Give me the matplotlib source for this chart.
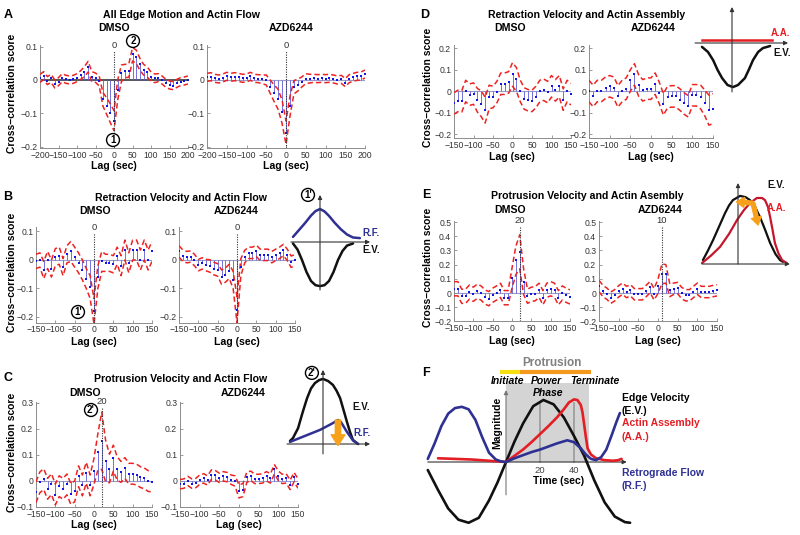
import numpy as np
import matplotlib.pyplot as plt
from matplotlib.ticker import FuncFormatter

plt.rcParams['font.family'] = ['Liberation Sans', 'DejaVu Sans']

W, H = 800, 535

# ---- cross-correlation scores ----
lag_a = np.arange(-200, 201, 10)
lag_b = np.arange(-150, 151, 10)

a_dmso = [0.005, 0.013, -0.002, 0.005, -0.012, -0.005, 0.007, 0.002, 0.0, 0.002,
          0.007, 0.015, 0.025, 0.04, 0.01, 0.007, -0.003, -0.058, -0.078, -0.1,
          -0.122, -0.03, 0.02, 0.027, 0.028, 0.077, 0.07, 0.047, 0.031, 0.024,
          0.01, 0.005, 0.007, 0.0, -0.01, -0.015, -0.017, -0.01, -0.005, -0.003, 0.0]
a_dmso_ci = [0.012, 0.012, 0.012, 0.012, 0.012, 0.012, 0.012, 0.012, 0.012, 0.012,
             0.012, 0.013, 0.015, 0.016, 0.015, 0.014, 0.015, 0.02, 0.025, 0.028,
             0.03, 0.03, 0.025, 0.02, 0.02, 0.02, 0.02, 0.018, 0.016, 0.015,
             0.014, 0.013, 0.012, 0.012, 0.012, 0.012, 0.012, 0.012, 0.012, 0.012, 0.012]
a_azd = [0.008, 0.01, 0.005, 0.003, 0.006, 0.011, 0.008, 0.01, 0.008, 0.005,
         0.006, 0.011, 0.005, 0.004, 0.002, 0.0, -0.02, -0.04, -0.058, -0.095,
         -0.158, -0.079, -0.022, -0.015, -0.006, 0.004, 0.004, 0.005, 0.004, 0.005,
         0.004, 0.005, 0.003, 0.0, 0.002, -0.008, 0.004, 0.008, 0.011, 0.012, 0.018]
a_azd_ci = [0.012, 0.012, 0.012, 0.012, 0.012, 0.012, 0.012, 0.012, 0.012, 0.012,
            0.012, 0.012, 0.012, 0.012, 0.013, 0.015, 0.02, 0.025, 0.03, 0.035,
            0.035, 0.03, 0.02, 0.018, 0.015, 0.015, 0.013, 0.012, 0.012, 0.012,
            0.012, 0.012, 0.012, 0.012, 0.012, 0.012, 0.012, 0.012, 0.012, 0.012, 0.012]

b_dmso = [-0.005, 0.0, -0.035, 0.0, -0.03, 0.01, 0.015, -0.025, 0.02, 0.03,
          0.01, -0.01, -0.035, -0.065, -0.095, -0.18, -0.06, -0.005, -0.01, -0.01,
          -0.015, 0.015, -0.02, 0.035, -0.01, 0.035, 0.035, 0.0, 0.035, 0.0, 0.03]
b_dmso_ci = [0.025, 0.025, 0.03, 0.03, 0.03, 0.03, 0.03, 0.03, 0.03, 0.035,
             0.035, 0.035, 0.035, 0.035, 0.04, 0.045, 0.04, 0.035, 0.03, 0.03,
             0.03, 0.03, 0.035, 0.035, 0.035, 0.035, 0.035, 0.035, 0.035, 0.035, 0.035]
b_azd = [0.03, 0.015, 0.01, 0.012, 0.0, -0.018, -0.012, -0.018, -0.021, -0.03,
         -0.035, -0.06, -0.053, -0.04, -0.07, -0.175, -0.025, 0.012, 0.025, 0.025,
         0.032, 0.018, 0.018, 0.018, 0.01, 0.018, 0.025, 0.035, 0.018, -0.006, -0.001]
b_azd_ci = [0.02, 0.02, 0.02, 0.02, 0.02, 0.02, 0.02, 0.02, 0.022, 0.022,
            0.022, 0.025, 0.025, 0.025, 0.03, 0.045, 0.03, 0.022, 0.02, 0.02,
            0.02, 0.02, 0.02, 0.02, 0.02, 0.02, 0.02, 0.02, 0.02, 0.02, 0.02]

c_dmso = [-0.043, -0.005, 0.007, -0.03, -0.012, -0.052, -0.02, -0.03, -0.013, -0.05,
          -0.04, 0.018, -0.017, 0.032, -0.017, 0.037, 0.112, 0.155, 0.077, 0.048,
          0.088, 0.048, 0.035, 0.05, 0.028, 0.028, 0.025, 0.015, 0.01, 0.0, -0.002]
c_dmso_ci = [0.04, 0.04, 0.04, 0.04, 0.04, 0.04, 0.04, 0.04, 0.04, 0.04,
             0.04, 0.04, 0.04, 0.04, 0.04, 0.05, 0.07, 0.11, 0.08, 0.055,
             0.05, 0.045, 0.04, 0.04, 0.04, 0.04, 0.04, 0.04, 0.04, 0.04, 0.04]
c_azd = [-0.012, -0.01, 0.0, -0.01, -0.008, 0.005, 0.01, 0.002, 0.025, 0.022,
         0.012, 0.018, 0.015, 0.005, 0.0, -0.04, -0.035, 0.015, 0.02, 0.008,
         0.008, 0.01, 0.018, 0.01, 0.045, 0.02, 0.008, 0.01, -0.015, 0.015, -0.01]
c_azd_ci = [0.018, 0.018, 0.018, 0.018, 0.018, 0.018, 0.018, 0.018, 0.018, 0.018,
            0.018, 0.018, 0.018, 0.018, 0.02, 0.025, 0.025, 0.02, 0.018, 0.018,
            0.018, 0.018, 0.018, 0.018, 0.018, 0.018, 0.018, 0.018, 0.018, 0.018, 0.018]

d_dmso = [-0.058, -0.046, -0.048, 0.0, -0.017, -0.012, -0.043, -0.06, -0.089, -0.028,
          -0.028, -0.005, 0.034, 0.034, 0.04, 0.077, 0.054, 0.0, -0.035, -0.043,
          -0.046, -0.028, 0.0, 0.006, -0.005, 0.022, 0.003, 0.022, -0.04, 0.0, -0.015]
d_dmso_ci = [0.05, 0.05, 0.05, 0.05, 0.05, 0.05, 0.055, 0.06, 0.06, 0.055,
             0.05, 0.05, 0.05, 0.05, 0.05, 0.055, 0.055, 0.05, 0.05, 0.05,
             0.05, 0.05, 0.05, 0.05, 0.05, 0.05, 0.05, 0.05, 0.05, 0.05, 0.05]
d_azd = [0.0, -0.023, 0.0, 0.0, 0.015, 0.022, 0.015, -0.025, 0.0, 0.011,
         0.049, 0.077, 0.026, 0.003, 0.011, 0.011, 0.034, -0.009, -0.062, -0.028,
         -0.025, -0.025, -0.04, -0.058, -0.071, -0.02, -0.02, -0.028, -0.055, -0.089, -0.082]
d_azd_ci = [0.05, 0.05, 0.05, 0.05, 0.05, 0.05, 0.05, 0.05, 0.05, 0.05,
            0.05, 0.05, 0.05, 0.05, 0.05, 0.05, 0.05, 0.05, 0.05, 0.05,
            0.05, 0.05, 0.05, 0.05, 0.05, 0.05, 0.05, 0.055, 0.06, 0.07, 0.07]

e_dmso = [0.03, 0.03, -0.023, -0.023, 0.007, -0.009, 0.012, 0.0, -0.028, -0.04,
          -0.016, 0.0, 0.019, -0.033, -0.033, 0.105, 0.23, 0.29, 0.08, -0.023,
          -0.009, -0.005, 0.019, -0.033, 0.019, 0.03, 0.019, -0.033, 0.0, -0.016, -0.028]
e_dmso_ci = [0.05, 0.05, 0.05, 0.05, 0.05, 0.05, 0.05, 0.05, 0.05, 0.05,
             0.05, 0.05, 0.05, 0.05, 0.05, 0.07, 0.1, 0.12, 0.09, 0.05,
             0.05, 0.05, 0.05, 0.05, 0.05, 0.05, 0.05, 0.05, 0.05, 0.05, 0.05]
e_azd = [0.049, 0.014, -0.005, -0.033, -0.016, 0.012, 0.03, 0.007, 0.019, -0.009,
         -0.009, -0.009, 0.014, 0.042, -0.009, 0.047, 0.135, 0.135, 0.019, 0.03,
         0.035, 0.0, -0.016, -0.016, 0.007, 0.03, 0.007, 0.007, 0.007, 0.014, 0.019]
e_azd_ci = [0.04, 0.04, 0.04, 0.04, 0.04, 0.04, 0.04, 0.04, 0.04, 0.04,
            0.04, 0.04, 0.04, 0.04, 0.04, 0.05, 0.07, 0.065, 0.045, 0.04,
            0.04, 0.04, 0.04, 0.04, 0.04, 0.04, 0.04, 0.04, 0.04, 0.04, 0.04]

# ---- schematic curves (arbitrary units) ----
b_rf_x = [-0.9, -0.7, -0.5, -0.3, -0.15, 0, 0.15, 0.3, 0.5, 0.7, 0.9, 1.1, 1.33]
b_rf_y = [0.17, 0.4, 0.63, 0.88, 1.03, 1.1, 1.02, 0.87, 0.63, 0.42, 0.25, 0.15, 0.13]
b_ev_x = [-0.9, -0.75, -0.6, -0.45, -0.3, -0.15, 0, 0.15, 0.3, 0.45, 0.6, 0.75, 0.9, 1.1]
b_ev_y = [-0.05, -0.25, -0.6, -1.0, -1.3, -1.44, -1.47, -1.44, -1.3, -1.0, -0.6, -0.3, -0.12, -0.05]

c_ev_x = [-1.1, -1.0, -0.83, -0.68, -0.53, -0.4, -0.27, -0.13, 0, 0.17, 0.33, 0.45,
          0.57, 0.68, 0.8, 0.9, 1.0, 1.17]
c_ev_y = [0.1, 0.2, 0.53, 1.05, 1.53, 1.85, 2.03, 2.13, 2.17, 2.1, 1.97, 1.78,
          1.53, 1.15, 0.73, 0.4, 0.13, 0.0]
c_rf_x = [-1.1, -0.6, -0.1, 0.3, 0.5, 0.6, 0.8, 1.0, 1.17]
c_rf_y = [0.07, 0.27, 0.47, 0.68, 0.8, 0.73, 0.4, 0.12, 0.0]

d_ev_x = [-1.0, -0.8, -0.63, -0.48, -0.33, -0.15, 0.03, 0.2, 0.43, 0.57, 0.7, 0.87, 1.03, 1.27]
d_ev_y = [-0.13, -0.3, -0.57, -0.9, -1.17, -1.4, -1.47, -1.4, -1.17, -0.87, -0.57, -0.3, -0.17, -0.1]
d_aa_x = [-1.0, 1.33]
d_aa_y = [0.1, 0.1]

e_ev_x = [-1.17, -1.0, -0.83, -0.63, -0.43, -0.3, -0.17, 0.07, 0.25, 0.4, 0.57, 0.73,
          0.9, 1.07, 1.25, 1.4, 1.5]
e_ev_y = [0.13, 0.45, 0.8, 1.25, 1.7, 1.95, 2.13, 2.27, 2.23, 2.13, 1.9, 1.57,
          1.15, 0.7, 0.33, 0.13, 0.07]
e_aa_x = [-1.2, -0.9, -0.6, -0.3, -0.03, 0.2, 0.4, 0.63, 0.8, 0.9, 1.0, 1.07,
          1.15, 1.23, 1.35, 1.47, 1.63]
e_aa_y = [0.03, 0.28, 0.57, 1.0, 1.47, 1.8, 2.03, 2.2, 2.2, 2.13, 1.9, 1.57,
          1.15, 0.7, 0.35, 0.13, 0.03]

# panel F: time (sec) vs magnitude
f_ev_t = [-46, -40, -34, -28, -22, -16, -10, -5, 0, 5, 10, 16, 22, 28, 34, 40, 46,
          52, 58, 64, 70, 73]
f_ev_m = [-0.13, -0.45, -0.75, -0.93, -0.98, -0.9, -0.62, -0.33, 0.0, 0.33, 0.62, 0.9,
          1.0, 0.93, 0.72, 0.42, 0.1, -0.3, -0.65, -0.88, -0.97, -0.98]
f_rf_t = [-46, -42, -38, -34, -30, -26, -22, -18, -14, -10, -6, -3, 0, 5, 10, 15, 20,
          25, 30, 36, 40, 44, 47, 50, 53, 56, 59, 62, 65, 67]
f_rf_m = [0.05, 0.3, 0.58, 0.78, 0.87, 0.89, 0.85, 0.68, 0.4, 0.15, 0.04, 0.01, 0.0,
          0.06, 0.11, 0.16, 0.2, 0.25, 0.3, 0.35, 0.32, 0.22, 0.12, 0.05, 0.03, 0.08,
          0.2, 0.42, 0.65, 0.79]
f_aa_t = [-40, -30, -20, -10, 0, 5, 10, 15, 20, 25, 30, 34, 37, 40, 42, 44, 45, 46,
          47, 48, 50, 53, 58, 63, 66, 68]
f_aa_m = [0.06, 0.05, 0.04, 0.02, 0.0, 0.1, 0.2, 0.32, 0.45, 0.58, 0.72, 0.85, 0.96,
          1.01, 1.0, 0.92, 0.8, 0.6, 0.4, 0.22, 0.12, 0.06, 0.03, 0.02, 0.03, 0.05]

BLUE = '#2e3192'
RED = '#e31e24'
ORANGE = '#f7a11a'

fig = plt.figure(figsize=(8, 5.35), dpi=100)


def box(x0, y0, x1, y1):
    return [x0 / W, 1 - y1 / H, (x1 - x0) / W, (y1 - y0) / H]


def ftext(x, y, s, **kw):
    kw.setdefault('ha', 'center')
    kw.setdefault('va', 'center')
    return fig.text(x / W, 1 - y / H, s, **kw)


def minus(v, pos):
    return ('%g' % v).replace('-', '\u2212')


def xcorr(px, py, lags, vals, ci, ylim, yticks, mark=None, base='#9c9cc8', basew=0.8):
    ax = fig.add_axes(box(px[0], py[0], px[1], py[1]))
    vals = np.array(vals)
    ci = np.array(ci)
    ax.axhline(0, color=base, lw=basew, zorder=1)
    ax.vlines(lags, 0, vals, color='#5b5bd6', lw=0.6, zorder=2)
    ax.plot(lags, vals + ci, color='#ee2222', lw=1.1, dashes=(3.5, 2), zorder=3)
    ax.plot(lags, vals - ci, color='#ee2222', lw=1.1, dashes=(3.5, 2), zorder=3)
    ax.plot(lags, vals, 's', color='#1414e6', ms=2.1, mew=0, zorder=4)
    ax.set_xlim(lags[0], lags[-1])
    ax.set_ylim(*ylim)
    ax.set_xticks(np.arange(lags[0], lags[-1] + 1, 50))
    ax.set_yticks(yticks)
    ax.xaxis.set_major_formatter(FuncFormatter(minus))
    ax.yaxis.set_major_formatter(FuncFormatter(minus))
    for s in ['top', 'right']:
        ax.spines[s].set_visible(False)
    for s in ['left', 'bottom']:
        ax.spines[s].set_color('#8c8c8c')
        ax.spines[s].set_linewidth(0.7)
    ax.tick_params(direction='in', length=2, width=0.6, colors='#8c8c8c',
                   labelcolor='#333333', labelsize=6.2, pad=2)
    ax.patch.set_alpha(0)
    if mark is not None:
        ax.axvline(mark, ymax=0.94, color='#333333', lw=0.8, ls=(0, (1, 1.2)), zorder=5)
        ax.text(mark, 1.0, str(mark), transform=ax.get_xaxis_transform(),
                ha='center', va='center', fontsize=6.8, color='#333333')
    return ax


def schem(cx, cy, x0, y0, x1, y1, sx=30.0, sy=30.0):
    ax = fig.add_axes(box(x0, y0, x1, y1))
    ax.set_xlim((x0 - cx) / sx, (x1 - cx) / sx)
    ax.set_ylim((cy - y1) / sy, (cy - y0) / sy)
    ax.axis('off')
    return ax


def arrow(ax, p0, p1, color='#333333', lw=0.8):
    ax.annotate('', xy=p1, xytext=p0,
                arrowprops=dict(arrowstyle='-|>', color=color, lw=lw,
                                mutation_scale=6, shrinkA=0, shrinkB=0))


def fat_arrow(ax, p0, p1, scale=10):
    ax.annotate('', xy=p1, xytext=p0,
                arrowprops=dict(arrowstyle='simple,head_width=0.9,head_length=0.7,tail_width=0.35',
                                color=ORANGE, mutation_scale=scale, shrinkA=0, shrinkB=0))


circ = dict(boxstyle='circle,pad=0.15', fc='white', ec='black', lw=1.0)
bold = dict(fontweight='bold')
TS = 7.6   # title size
LS = 7.6   # lag label size

# ---------------- Panel A ----------------
yA = (-0.205, 0.105)
xcorr((40, 188), (45, 148.3), lag_a, a_dmso, a_dmso_ci, yA, [-0.2, -0.1, 0, 0.1],
      mark=0, base='#555555', basew=1.4)
xcorr((207, 365), (45, 148.3), lag_a, a_azd, a_azd_ci, yA, [-0.2, -0.1, 0, 0.1], mark=0)
ftext(8, 15, 'A', fontsize=9, **bold)
ftext(181, 15, 'All Edge Motion and Actin Flow', fontsize=TS, **bold)
ftext(114, 28, 'DMSO', fontsize=TS, **bold)
ftext(291, 28, 'AZD6244', fontsize=TS, **bold)
ftext(133, 41, '2', fontsize=7, bbox=circ, **bold)
ftext(113, 140, '1', fontsize=7, bbox=circ, **bold)
ftext(12, 93, 'Cross\u2212correlation score', fontsize=7.4, rotation=90, **bold)
ftext(114, 166, 'Lag (sec)', fontsize=LS, **bold)
ftext(286, 166, 'Lag (sec)', fontsize=LS, **bold)

# ---------------- Panel B ----------------
yB = (-0.22, 0.115)
xcorr((36, 152), (227.2, 322.7), lag_b, b_dmso, b_dmso_ci, yB, [-0.2, -0.1, 0, 0.1], mark=0)
xcorr((179, 295), (227.2, 322.7), lag_b, b_azd, b_azd_ci, yB, [-0.2, -0.1, 0, 0.1], mark=0)
ftext(8, 197, 'B', fontsize=9, **bold)
ftext(181, 198, 'Retraction Velocity and Actin Flow', fontsize=TS, **bold)
ftext(95, 211, 'DMSO', fontsize=TS, **bold)
ftext(236, 211, 'AZD6244', fontsize=TS, **bold)
ftext(78, 312, "1'", fontsize=7, bbox=circ, **bold)
ftext(12, 272, 'Cross\u2212correlation score', fontsize=7.4, rotation=90, **bold)
ftext(94, 342, 'Lag (sec)', fontsize=LS, **bold)
ftext(237, 342, 'Lag (sec)', fontsize=LS, **bold)

ax = schem(320, 242, 285, 188, 380, 295)
arrow(ax, (-0.97, 0), (1.67, 0))
arrow(ax, (0, -1.6), (0, 1.57))
ax.plot(b_rf_x, b_rf_y, color=BLUE, lw=1.8, solid_capstyle='round')
ax.plot(b_ev_x, b_ev_y, color='#111111', lw=1.8, solid_capstyle='round')
ax.text(1.4, 0.3, 'R.F.', color=BLUE, fontsize=7, ha='left', va='center', **bold)
ax.text(1.4, -0.27, 'E.V.', color='#111111', fontsize=7, ha='left', va='center', **bold)
ax.text(-0.4, 1.57, "1'", fontsize=7, ha='center', va='center', bbox=circ, **bold)

# ---------------- Panel C ----------------
yC = (-0.1, 0.305)
xcorr((36, 152), (401.7, 507), lag_b, c_dmso, c_dmso_ci, yC, [-0.1, 0, 0.1, 0.2, 0.3], mark=20)
xcorr((180, 298), (401.7, 507), lag_b, c_azd, c_azd_ci, yC, [-0.1, 0, 0.1, 0.2, 0.3])
ftext(8, 378, 'C', fontsize=9, **bold)
ftext(181, 379, 'Protrusion Velocity and Actin Flow', fontsize=TS, **bold)
ftext(85, 393, 'DMSO', fontsize=TS, **bold)
ftext(243, 393, 'AZD6244', fontsize=TS, **bold)
ftext(91, 410, "2'", fontsize=7, bbox=circ, **bold)
ftext(12, 452, 'Cross\u2212correlation score', fontsize=7.4, rotation=90, **bold)
ftext(94, 525, 'Lag (sec)', fontsize=LS, **bold)
ftext(239, 525, 'Lag (sec)', fontsize=LS, **bold)

ax = schem(323, 444, 280, 362, 380, 452)
arrow(ax, (-1.2, 0), (1.57, 0))
arrow(ax, (0, -0.33), (0, 2.47))
ax.plot(c_ev_x, c_ev_y, color='#111111', lw=1.8, solid_capstyle='round')
ax.plot(c_rf_x, c_rf_y, color=BLUE, lw=1.8, solid_capstyle='round')
fat_arrow(ax, (0.5, 0.8), (0.5, -0.05), scale=11)
ax.text(0.97, 1.23, 'E.V.', color='#111111', fontsize=7, ha='left', va='center', **bold)
ax.text(1.0, 0.37, 'R.F.', color=BLUE, fontsize=7, ha='left', va='center', **bold)
ax.text(-0.37, 2.37, "2'", fontsize=7, ha='center', va='center', bbox=circ, **bold)

# ---------------- Panel D ----------------
yD = (-0.22, 0.215)
xcorr((454, 571), (44.8, 138.3), lag_b, d_dmso, d_dmso_ci, yD, [-0.2, -0.1, 0, 0.1, 0.2])
xcorr((589, 713), (44.8, 138.3), lag_b, d_azd, d_azd_ci, yD, [-0.2, -0.1, 0, 0.1, 0.2])
ftext(425, 15, 'D', fontsize=9, **bold)
ftext(587, 15, 'Retraction Velocity and Actin Assembly', fontsize=TS, **bold)
ftext(510, 28, 'DMSO', fontsize=TS, **bold)
ftext(653, 28, 'AZD6244', fontsize=TS, **bold)
ftext(428, 87, 'Cross\u2212correlation score', fontsize=7.4, rotation=90, **bold)
ftext(512, 157, 'Lag (sec)', fontsize=LS, **bold)
ftext(651, 157, 'Lag (sec)', fontsize=LS, **bold)

ax = schem(732, 43, 690, 3, 798, 96)
arrow(ax, (-1.23, 0), (1.87, 0))
arrow(ax, (0, -1.63), (0, 1.2))
ax.plot(d_ev_x, d_ev_y, color='#111111', lw=1.8, solid_capstyle='round')
ax.plot(d_aa_x, d_aa_y, color=RED, lw=1.8)
ax.text(1.3, 0.33, 'A.A.', color=RED, fontsize=7, ha='left', va='center', **bold)
ax.text(1.37, -0.33, 'E.V.', color='#111111', fontsize=7, ha='left', va='center', **bold)

# ---------------- Panel E ----------------
yE = (-0.2, 0.51)
xcorr((454, 570), (220.6, 321.4), lag_b, e_dmso, e_dmso_ci, yE,
      [-0.2, -0.1, 0, 0.1, 0.2, 0.3, 0.4, 0.5], mark=20)
xcorr((599, 717), (220.6, 321.4), lag_b, e_azd, e_azd_ci, yE,
      [-0.2, -0.1, 0, 0.1, 0.2, 0.3, 0.4, 0.5], mark=10)
ftext(426, 195, 'E', fontsize=9, **bold)
ftext(587, 196, 'Protrusion Velocity and Actin Asembly', fontsize=TS, **bold)
ftext(510, 210, 'DMSO', fontsize=TS, **bold)
ftext(660, 210, 'AZD6244', fontsize=TS, **bold)
ftext(428, 267, 'Cross\u2212correlation score', fontsize=7.4, rotation=90, **bold)
ftext(512, 341, 'Lag (sec)', fontsize=LS, **bold)
ftext(658, 341, 'Lag (sec)', fontsize=LS, **bold)

ax = schem(738, 264, 696, 176, 798, 268)
arrow(ax, (-1.2, 0), (1.73, 0))
arrow(ax, (0, 0), (0, 2.7))
ax.plot(e_ev_x, e_ev_y, color='#111111', lw=1.6, solid_capstyle='round')
ax.plot(e_aa_x, e_aa_y, color='#c4172c', lw=1.6, solid_capstyle='round')
fat_arrow(ax, (0.5, 2.03), (-0.05, 2.07), scale=8)
fat_arrow(ax, (0.5, 2.03), (0.67, 1.3), scale=8)
ax.text(0.97, 2.63, 'E.V.', color='#111111', fontsize=7, ha='left', va='center', **bold)
ax.text(0.97, 1.87, 'A.A.', color=RED, fontsize=7, ha='left', va='center', **bold)

# ---------------- Panel F ----------------
ax = schem(506, 462, 415, 350, 720, 532, sx=1.7, sy=62.0)
ax.fill_between([0, 49], 0, 1.27, color='#d4d4d4', lw=0, zorder=0)
ax.plot([20, 20], [0, 0.95], color='#9a9a9a', lw=1.2, zorder=1)
ax.plot([40, 40], [0, 0.95], color='#9a9a9a', lw=1.2, zorder=1)
arrow(ax, (-46, 0), (71, 0))
arrow(ax, (0, -0.53), (0, 1.16), color='#777777')
ax.plot(f_ev_t, f_ev_m, color='#111111', lw=1.9, solid_capstyle='round', zorder=3)
ax.plot(f_aa_t, f_aa_m, color=RED, lw=1.9, solid_capstyle='round', zorder=3)
ax.plot(f_rf_t, f_rf_m, color=BLUE, lw=1.9, solid_capstyle='round', zorder=3)
ax.plot([-3.5, 8], [1.45, 1.45], color='#f7e011', lw=3, solid_capstyle='butt')
ax.plot([8, 50], [1.45, 1.45], color='#f39a1e', lw=3, solid_capstyle='butt')
ax.text(27, 1.6, 'Protrusion', color='#808080', fontsize=8.5, ha='center', va='center', **bold)
ax.text(1, 1.31, 'Initiate', fontsize=7.5, style='italic', ha='center', va='center', **bold)
ax.text(23.5, 1.31, 'Power', fontsize=7.5, style='italic', ha='center', va='center', **bold)
ax.text(52, 1.31, 'Terminate', fontsize=7.5, style='italic', ha='center', va='center', **bold)
ax.text(25, 1.11, 'Phase', fontsize=7.5, style='italic', ha='center', va='center', **bold)
ax.text(20, -0.13, '20', fontsize=6.8, color='#444444', ha='center', va='center')
ax.text(40, -0.13, '40', fontsize=6.8, color='#444444', ha='center', va='center')
ax.text(31, -0.31, 'Time (sec)', fontsize=7.5, ha='center', va='center', **bold)
ax.text(-5.3, 0.63, 'Magnitude', fontsize=7.5, rotation=90, ha='center', va='center', **bold)
ax.text(68.2, 1.03, 'Edge Velocity', fontsize=7.5, ha='left', va='center', **bold)
ax.text(68.2, 0.82, '(E.V.)', fontsize=7.5, ha='left', va='center', **bold)
ax.text(68.2, 0.63, 'Actin Assembly', fontsize=7.5, color=RED, ha='left', va='center', **bold)
ax.text(68.2, 0.40, '(A.A.)', fontsize=7.5, color=RED, ha='left', va='center', **bold)
ax.text(68.2, -0.18, 'Retrograde Flow', fontsize=7.5, color=BLUE, ha='left', va='center', **bold)
ax.text(68.2, -0.39, '(R.F.)', fontsize=7.5, color=BLUE, ha='left', va='center', **bold)
ftext(426, 373, 'F', fontsize=9, **bold)

fig.savefig('out.png', dpi=100, facecolor='white')
